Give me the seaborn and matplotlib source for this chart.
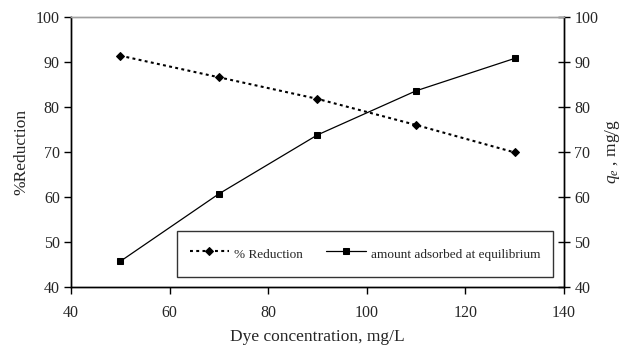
import matplotlib
matplotlib.use("Agg")
import matplotlib.pyplot as plt
import seaborn as sns
import pandas as pd

# Dye concentration (mg/L)
concentration = [50, 70, 90, 110, 130]
# Percent reduction of the dye
reduction = [91.4, 86.6, 81.8, 76.0, 69.9]
# Amount adsorbed at equilibrium, qe (mg/g)
qe = [45.7, 60.7, 73.8, 83.6, 90.8]

x_ticks = [40, 60, 80, 100, 120, 140]
y_ticks = [40, 50, 60, 70, 80, 90, 100]

sns.set_theme(style="white")
plt.rcParams["font.family"] = ["Liberation Serif", "DejaVu Serif"]
plt.rcParams["mathtext.fontset"] = "custom"
plt.rcParams["mathtext.rm"] = "Liberation Serif"
plt.rcParams["mathtext.it"] = "Liberation Serif:italic"

df = pd.DataFrame({"conc": concentration, "red": reduction, "qe": qe})

fig = plt.figure(figsize=(6.22, 3.46), dpi=100)
ax = fig.add_axes([0.1141, 0.1705, 0.7927, 0.7804])
ax2 = ax.twinx()

sns.lineplot(data=df, x="conc", y="red", ax=ax, color="black",
             marker="D", markersize=4.5, linewidth=1.5,
             linestyle=(0, (1.4, 1.6)), markeredgecolor="black",
             label="% Reduction", legend=False)
sns.lineplot(data=df, x="conc", y="qe", ax=ax2, color="black",
             marker="s", markersize=4.8, linewidth=0.9,
             markeredgecolor="black",
             label="amount adsorbed at equilibrium", legend=False)

for a in (ax, ax2):
    a.set_xlim(40, 140)
    a.set_ylim(40, 100)
    a.set_yticks(y_ticks)
    a.set_facecolor("none")

ax.set_xticks(x_ticks)
ax.tick_params(axis="x", direction="out", length=5, width=1, color="black",
               labelsize=11.5, pad=8, bottom=True)
ax.tick_params(axis="y", direction="out", length=5, width=1, color="black",
               labelsize=11.5, pad=3, left=True)
ax2.tick_params(axis="y", direction="inout", length=9, width=1, color="black",
                labelsize=11.5, pad=3, right=True)

for a in (ax, ax2):
    for side in ("left", "right", "bottom"):
        a.spines[side].set_color("black")
        a.spines[side].set_linewidth(1.0)
    a.spines["top"].set_color("#a0a0a0")
    a.spines["top"].set_linewidth(1.0)

ax.set_xlabel("Dye concentration, mg/L", fontsize=12.5, labelpad=6)
ax.set_ylabel("%Reduction", fontsize=12.5, labelpad=5)
ax2.set_ylabel(r"$q_e$ , mg/g", fontsize=12.5, labelpad=3)

h1, l1 = ax.get_legend_handles_labels()
h2, l2 = ax2.get_legend_handles_labels()
leg = ax2.legend(h1 + h2, l1 + l2, loc="lower left",
                 bbox_to_anchor=(0.2150, 0.037), ncol=2, frameon=True,
                 fancybox=False, edgecolor="black", fontsize=9.5,
                 handlelength=3.0, handletextpad=0.35, columnspacing=1.8,
                 handleheight=2.1, borderpad=0.95, borderaxespad=0,
                 markerscale=0.85)
leg.get_frame().set_linewidth(1.0)
leg.get_frame().set_facecolor("white")

fig.savefig("out.png", dpi=100)
